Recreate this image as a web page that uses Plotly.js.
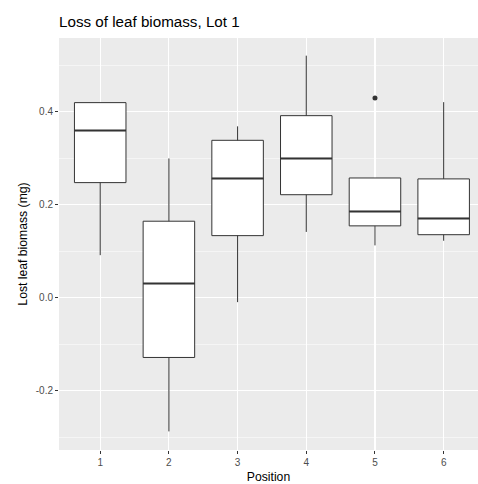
<!DOCTYPE html>
<html>
<head>
<meta charset="utf-8">
<script src="https://cdn.plot.ly/plotly-3.0.1.min.js"></script>
<style>
  html, body { margin: 0; padding: 0; background: #ffffff; }
  #chart { width: 478px; height: 484px; }
</style>
</head>
<body>
<div id="chart"></div>
<script>
// Box summaries of lost leaf biomass (mg) per position, Lot 1
const positions   = [1, 2, 3, 4, 5, 6];
const posLabels   = ['1', '2', '3', '4', '5', '6'];
const lowerWhisk  = [0.092, -0.287, -0.009, 0.142, 0.113, 0.123];
const q1Values    = [0.248, -0.128, 0.134, 0.222, 0.155, 0.136];
const medianVals  = [0.360, 0.031, 0.257, 0.300, 0.186, 0.171];
const q3Values    = [0.420, 0.165, 0.339, 0.392, 0.258, 0.256];
const upperWhisk  = [0.420, 0.300, 0.369, 0.521, 0.258, 0.421];
const outlierPos  = [5];
const outlierVals = [0.430];
const yTickVals   = [-0.2, 0.0, 0.2, 0.4];
const yTickText   = ['-0.2', '0.0', '0.2', '0.4'];

const BOX_WIDTH = 0.75;
const INK = '#333333';
const FAMILY = 'Liberation Sans, Arial, sans-serif';

// Boxes drawn from the precomputed quartiles and whisker ends
const boxes = {
  type: 'box',
  x: positions,
  q1: q1Values,
  median: medianVals,
  q3: q3Values,
  lowerfence: lowerWhisk,
  upperfence: upperWhisk,
  width: BOX_WIDTH,
  whiskerwidth: 0,
  boxpoints: false,
  fillcolor: '#ffffff',
  line: { color: INK, width: 1 },
  hoverinfo: 'skip',
  showlegend: false
};

// Heavier median bars on top of each box
const medX = [], medY = [];
positions.forEach((p, i) => {
  medX.push(p - BOX_WIDTH / 2, p + BOX_WIDTH / 2, null);
  medY.push(medianVals[i], medianVals[i], null);
});
const medians = {
  type: 'scatter',
  mode: 'lines',
  x: medX,
  y: medY,
  line: { color: INK, width: 2 },
  hoverinfo: 'skip',
  showlegend: false
};

const outliers = {
  type: 'scatter',
  mode: 'markers',
  x: outlierPos,
  y: outlierVals,
  marker: { color: INK, size: 5 },
  hoverinfo: 'skip',
  showlegend: false
};

const tickFont = { family: FAMILY, size: 10, color: '#4D4D4D' };
const titleFont = { family: FAMILY, size: 12.2, color: '#000000' };

const layout = {
  width: 478,
  height: 484,
  margin: { l: 59, r: 0, t: 38, b: 34 },
  paper_bgcolor: '#ffffff',
  plot_bgcolor: '#EBEBEB',
  showlegend: false,
  title: {
    text: 'Loss of leaf biomass, Lot 1',
    font: { family: FAMILY, size: 15.2, color: '#000000' },
    xref: 'paper', x: 0, xanchor: 'left',
    yref: 'container', y: 1 - 22 / 484, yanchor: 'middle'
  },
  xaxis: {
    range: [0.4, 6.5],
    tickmode: 'array',
    tickvals: positions,
    ticktext: posLabels,
    ticks: 'outside', ticklen: 3, tickwidth: 1, tickcolor: INK,
    tickfont: tickFont,
    showgrid: true, gridcolor: '#ffffff', gridwidth: 1.1,
    zeroline: false, showline: false,
    title: { text: 'Position', font: titleFont, standoff: 7 }
  },
  yaxis: {
    range: [-0.327, 0.559],
    tickmode: 'array',
    tickvals: yTickVals,
    ticktext: yTickText,
    ticks: 'outside', ticklen: 3, tickwidth: 1, tickcolor: INK,
    tickfont: tickFont,
    showgrid: true, gridcolor: '#ffffff', gridwidth: 1.1,
    minor: { tick0: 0.1, dtick: 0.2, showgrid: true, gridcolor: '#ffffff', gridwidth: 0.5, ticks: '' },
    zeroline: false, showline: false,
    title: { text: 'Lost leaf biomass (mg)', font: titleFont, standoff: 5 }
  }
};

Plotly.newPlot('chart', [boxes, medians, outliers], layout, { displayModeBar: false, staticPlot: true });
</script>
</body>
</html>
